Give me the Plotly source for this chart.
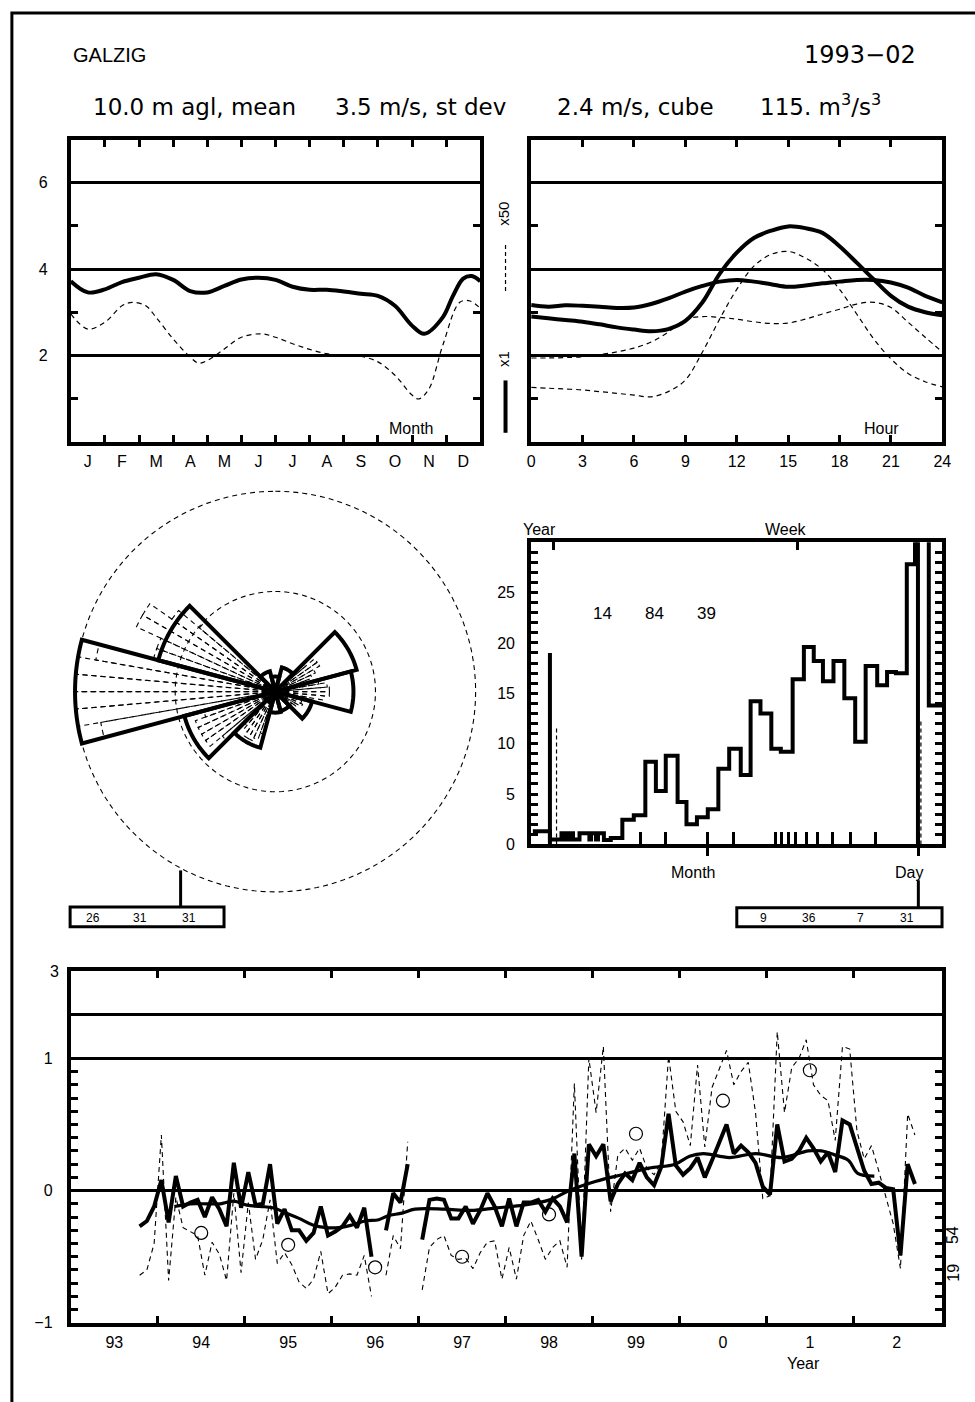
import plotly.graph_objects as go

W, H = 975, 1402
def fx(px): return px / W
def fy(py): return 1 - py / H

FONT = "Liberation Sans, Arial, sans-serif"
TFONT = "DejaVu Sans, Liberation Sans, sans-serif"
BLK = "black"

# ---------------- data ----------------
# seasonal cycle (top left)
month_labels = ["J", "F", "M", "A", "M", "J", "J", "A", "S", "O", "N", "D"]
mon_mean_x = [0, 0.5, 1, 1.5, 2, 2.5, 3, 3.5, 4, 4.5, 5, 5.5, 6, 6.5, 7, 7.5, 8, 8.5, 9, 9.5,
              10, 10.36, 10.9, 11.2, 11.5, 11.75, 12]
mon_mean_y = [3.72, 3.46, 3.53, 3.70, 3.80, 3.88, 3.75, 3.49, 3.46, 3.61, 3.76, 3.80, 3.75, 3.59,
              3.52, 3.52, 3.48, 3.43, 3.38, 3.15, 2.69, 2.50, 2.88, 3.38, 3.78, 3.84, 3.72]
mon_sd_x = [0, 0.5, 1, 1.5, 1.8, 2.2, 2.5, 3, 3.5, 3.75, 4, 4.5, 5, 5.6, 6, 6.5, 7, 7.5, 8, 8.5,
            9, 9.5, 10, 10.2, 10.5, 10.9, 11.4, 11.7, 12]
mon_sd_y = [2.96, 2.61, 2.77, 3.15, 3.23, 3.15, 2.88, 2.38, 1.96, 1.82, 1.88, 2.15, 2.42, 2.50,
            2.42, 2.27, 2.14, 2.04, 2.00, 1.98, 1.85, 1.54, 1.08, 0.99, 1.23, 2.23, 3.23, 3.26, 3.09]

# diurnal cycle (top right)
hours = list(range(25))
hr_mean_a = [2.90, 2.86, 2.82, 2.78, 2.72, 2.65, 2.60, 2.56, 2.61, 2.80, 3.23, 3.89, 4.38, 4.72,
             4.89, 4.99, 4.95, 4.84, 4.53, 4.15, 3.76, 3.38, 3.13, 3.00, 2.93]
hr_mean_b = [3.17, 3.13, 3.16, 3.15, 3.13, 3.10, 3.11, 3.19, 3.32, 3.48, 3.61, 3.71, 3.75, 3.71,
             3.65, 3.59, 3.62, 3.67, 3.71, 3.75, 3.75, 3.69, 3.57, 3.38, 3.23]
hr_sd_a = [1.26, 1.24, 1.22, 1.20, 1.16, 1.12, 1.08, 1.04, 1.16, 1.43, 2.08, 2.84, 3.53, 4.07,
           4.34, 4.41, 4.26, 3.99, 3.53, 2.96, 2.38, 1.92, 1.58, 1.39, 1.27]
hr_sd_b = [1.94, 1.94, 1.95, 1.97, 2.02, 2.08, 2.17, 2.31, 2.54, 2.83, 2.90, 2.88, 2.84, 2.78,
           2.74, 2.75, 2.84, 2.96, 3.07, 3.19, 3.23, 3.11, 2.77, 2.42, 2.08]

# wind rose (30 deg sectors) and 5 deg sub-sectors
rose_dir = [0, 30, 60, 90, 120, 150, 180, 210, 240, 270, 300, 330]
rose_freq = [1.5, 2.5, 8.4, 7.8, 3.8, 2.0, 2.1, 5.8, 9.4, 20.0, 12.1, 2.1]
rose_rings = [10, 20]
fine_start = [45, 50, 55, 60, 65, 70, 75, 80, 85, 90, 95, 100, 105, 110, 115, 120, 125, 130,
              195, 200, 205, 210, 215, 220, 225, 230, 235, 240, 245, 250,
              255, 260, 265, 270, 275, 280, 285, 290, 295, 300, 305, 310]
fine_freq = [3.9, 5.1, 5.1, 4.4, 3.9, 3.4, 4.4, 5.2, 5.4, 5.4, 4.9, 3.4, 2.0, 2.8, 3.0, 2.5, 2.0, 1.5,
             4.4, 5.1, 5.4, 5.4, 4.9, 4.4, 6.9, 8.5, 8.5, 8.5, 8.5, 7.4,
             17.7, 20.0, 20.0, 20.0, 20.0, 18.2, 12.6, 12.6, 15.3, 15.3, 12.6, 9.9]

# histogram (step) panel
hist_edges = [1.7, 19.0, 30.7, 32.4, 35.7, 37.4, 40.7, 42.4, 49.0, 59.0, 60.7, 65.7, 67.7, 73.7,
              80.7, 92.4, 104.0, 115.7, 126.4, 136.4, 148.4, 157.4, 168.0, 179.0, 189.7, 200.7,
              212.4, 222.4, 232.4, 243.4, 253.0, 265.0, 276.4, 286.4, 295.7, 306.4, 317.4, 328.4,
              339.0, 350.7, 360.7, 369.7, 380.7, 389.0, 403.0, 416.4]
hist_vals = [1.3, 0.5, 1.1, 0.5, 1.1, 0.5, 1.1, 0.5, 1.1, 0.5, 1.1, 0.5, 1.1, 0.45, 0.65,
             2.45, 2.9, 8.2, 5.3, 8.8, 4.2, 2.0, 2.7, 3.5, 7.5, 9.5, 6.9, 14.2, 13.0, 9.5, 9.2,
             16.4, 19.6, 18.2, 16.2, 18.2, 14.5, 10.2, 17.7, 15.8, 17.1, 17.0, 27.8, 40.0, 13.8]
hist_mark_x = [19.0, 392.0]
hist_mark_h = [19.0, 31.0]
hist_dmark_x = [25.7, 395.0]
hist_dmark_h = [11.8, 12.4]
hist_small_ticks = [110.7, 135.7, 205.0, 247.4, 254.0, 260.7, 267.4, 279.0, 290.7, 305.7, 324.0, 349.0]
hist_major_ticks = [178.4, 392.4]
hist_top_ticks = [22.4, 269.7]
hist_numbers = ["14", "84", "39"]

# long-term monthly anomalies, Oct 1993 .. Sep 2002
start_year, start_month = 1993, 10
anom = [-0.27, -0.23, -0.12, 0.08, -0.24, 0.11, -0.12, -0.09, -0.07, -0.20,
        -0.05, -0.14, -0.27, 0.21, -0.13, 0.14, -0.11, -0.10, 0.20, -0.25,
        -0.14, -0.30, -0.30, -0.38, -0.32, -0.12, -0.34, -0.31, -0.27, -0.19,
        -0.28, -0.13, -0.50, None, -0.30, -0.02, -0.09, 0.20, None, -0.37,
        -0.07, -0.06, -0.07, -0.21, -0.21, -0.12, -0.25, -0.15, -0.02, -0.12,
        -0.27, -0.06, -0.27, -0.09, -0.09, -0.07, -0.16, -0.06, -0.12, -0.24,
        0.28, -0.50, 0.35, 0.26, 0.35, -0.08, 0.05, 0.13, 0.08, 0.21,
        0.10, 0.04, 0.18, 0.58, 0.19, 0.12, 0.17, 0.25, 0.10, 0.23,
        0.37, 0.50, 0.28, 0.34, 0.29, 0.21, 0.03, -0.03, 0.50, 0.22,
        0.24, 0.30, 0.40, 0.32, 0.22, 0.29, 0.14, 0.53, 0.50, 0.32,
        0.15, 0.05, 0.06, 0.02, 0.01, -0.49, 0.20, 0.05]
anom_dash = [-0.64, -0.60, -0.40, 0.42, -0.68, -0.05, -0.28, -0.31, -0.34, -0.64,
             -0.39, -0.48, -0.68, -0.02, -0.62, -0.09, -0.52, -0.37, -0.07, -0.55,
             -0.47, -0.56, -0.69, -0.74, -0.67, -0.46, -0.78, -0.73, -0.64, -0.63,
             -0.64, -0.49, -0.80, None, -0.64, -0.34, -0.44, 0.37, None, -0.75,
             -0.43, -0.37, -0.34, -0.49, -0.52, -0.51, -0.59, -0.47, -0.39, -0.38,
             -0.67, -0.43, -0.67, -0.34, -0.23, -0.37, -0.52, -0.43, -0.38, -0.58,
             0.81, -0.52, 1.00, 0.59, 1.09, -0.16, 0.27, 0.32, 0.23, 0.32,
             0.17, 0.12, 0.22, 1.02, 0.60, 0.52, 0.34, 0.95, 0.33, 0.78,
             0.92, 1.06, 0.80, 0.90, 0.97, 0.59, -0.06, -0.04, 1.20, 0.59,
             0.93, 1.00, 1.14, 0.80, 0.72, 0.68, 0.38, 1.09, 1.07, 0.45,
             0.24, 0.34, 0.15, -0.05, -0.25, -0.59, 0.58, 0.42]
run_idx = [4.8, 7.0, 9.3, 11.1, 13.0, 14.8, 16.6, 18.4, 20.2, 22.0, 23.9, 25.7, 27.5, 29.3, 31.1,
           33.0, 34.3, 36.2, 38.0, 42.1, 45.7, 49.3, 53.0, 56.6, 59.3, 63.0, 66.6, 70.3, 73.9,
           75.9, 77.8, 81.4, 85.0, 88.7, 92.3, 94.1, 95.9, 97.8, 99.1, 101.4]
run_val = [-0.12, -0.10, -0.10, -0.10, -0.08, -0.11, -0.12, -0.13, -0.17, -0.21, -0.26, -0.28,
           -0.28, -0.26, -0.23, -0.22, -0.19, -0.17, -0.14, -0.14, -0.15, -0.13, -0.11, -0.07,
           0.00, 0.07, 0.12, 0.17, 0.20, 0.26, 0.28, 0.25, 0.28, 0.25, 0.30, 0.30, 0.27, 0.23,
           0.13, 0.11]
annual_year = [1994, 1995, 1996, 1997, 1998, 1999, 2000, 2001]
annual_val = [-0.32, -0.41, -0.58, -0.50, -0.18, 0.43, 0.68, 0.91]
year_labels = ["93", "94", "95", "96", "97", "98", "99", "0", "1", "2"]

# ---------------- figure ----------------
fig = go.Figure()

def mdec(i):
    return start_year + (start_month - 1 + i + 0.5) / 12.0

DASH = "5px,4px"
# top-left
fig.add_trace(go.Scatter(x=mon_sd_x, y=mon_sd_y, mode="lines", line=dict(color=BLK, width=1.2, dash=DASH, shape="spline"), xaxis="x", yaxis="y"))
fig.add_trace(go.Scatter(x=mon_mean_x, y=mon_mean_y, mode="lines", line=dict(color=BLK, width=4, shape="spline"), xaxis="x", yaxis="y"))
# top-right
for ys in (hr_sd_a, hr_sd_b):
    fig.add_trace(go.Scatter(x=hours, y=ys, mode="lines", line=dict(color=BLK, width=1.2, dash=DASH, shape="spline"), xaxis="x2", yaxis="y2"))
for ys in (hr_mean_a, hr_mean_b):
    fig.add_trace(go.Scatter(x=hours, y=ys, mode="lines", line=dict(color=BLK, width=4, shape="spline"), xaxis="x2", yaxis="y2"))

# histogram
fig.add_trace(go.Scatter(x=hist_edges, y=hist_vals + [hist_vals[-1]], mode="lines", line=dict(color=BLK, width=4, shape="hv"), xaxis="x3", yaxis="y3"))
mx, my = [], []
for u, h in zip(hist_mark_x, hist_mark_h):
    mx += [u, u, None]; my += [0, h, None]
fig.add_trace(go.Scatter(x=mx, y=my, mode="lines", line=dict(color=BLK, width=4), xaxis="x3", yaxis="y3"))
mx, my = [], []
for u, h in zip(hist_dmark_x, hist_dmark_h):
    mx += [u, u, None]; my += [0, h, None]
fig.add_trace(go.Scatter(x=mx, y=my, mode="lines", line=dict(color=BLK, width=1.2, dash="4px,3px"), xaxis="x3", yaxis="y3"))
fig.add_trace(go.Scatter(x=[None], y=[None], xaxis="x4", yaxis="y3"))
fig.add_trace(go.Scatter(x=[None], y=[None], xaxis="x7", yaxis="y3"))

# wind rose
def sector(a0, a1, r):
    n = max(3, int(round(a1 - a0)) + 1)
    th = [a0] + [a0 + (a1 - a0) * k / (n - 1) for k in range(n)] + [a1, None]
    rr = [0] + [r] * n + [0, None]
    return rr, th

rr, th = [], []
for a, f in zip(fine_start, fine_freq):
    r_, t_ = sector(a, a + 5, f); rr += r_; th += t_
fig.add_trace(go.Scatterpolar(r=rr, theta=th, mode="lines", line=dict(color=BLK, width=1.1, dash=DASH), subplot="polar"))
for ring in rose_rings:
    t_ = [k * 2 for k in range(181)]
    fig.add_trace(go.Scatterpolar(r=[ring] * len(t_), theta=t_, mode="lines", line=dict(color=BLK, width=1.1, dash=DASH), subplot="polar"))
rr, th = [], []
for d, f in zip(rose_dir, rose_freq):
    r_, t_ = sector(d - 15, d + 15, f); rr += r_; th += t_
fig.add_trace(go.Scatterpolar(r=rr, theta=th, mode="lines", line=dict(color=BLK, width=4), subplot="polar"))

# long-term panel
xs = [mdec(i) for i in range(len(anom))]
fig.add_trace(go.Scatter(x=xs, y=anom_dash, mode="lines", line=dict(color=BLK, width=1.1, dash=DASH), xaxis="x5", yaxis="y5"))
fig.add_trace(go.Scatter(x=[mdec(i) for i in run_idx], y=run_val, mode="lines", line=dict(color=BLK, width=3.2, shape="spline"), xaxis="x5", yaxis="y5"))
fig.add_trace(go.Scatter(x=xs, y=anom, mode="lines", line=dict(color=BLK, width=4), xaxis="x5", yaxis="y5"))
fig.add_trace(go.Scatter(x=[y + 0.5 for y in annual_year], y=annual_val, mode="markers",
                         marker=dict(symbol="circle-open", size=13, color=BLK, line=dict(width=1.2, color=BLK)), xaxis="x5", yaxis="y5"))
fig.add_trace(go.Scatter(x=[None], y=[None], xaxis="x6", yaxis="y6"))

# ---------------- axes ----------------
tf = dict(family=FONT, size=16, color=BLK)
frame = dict(showline=True, linewidth=4, linecolor=BLK, zeroline=False, color=BLK)
def minor_in(vals, ln=7):
    return dict(tickvals=vals, ticks="inside", ticklen=ln, tickwidth=3, tickcolor=BLK, showgrid=False)

lay = dict(
    width=W, height=H, autosize=False, margin=dict(l=0, r=0, t=0, b=0),
    paper_bgcolor="white", plot_bgcolor="rgba(0,0,0,0)", showlegend=False,
    xaxis=dict(domain=[fx(67.7), fx(482.7)], range=[0, 12], anchor="y", mirror="ticks",
               tickvals=[k + 0.5 for k in range(12)], ticktext=month_labels, ticks="", showgrid=False,
               minor=minor_in(list(range(1, 12))), tickfont=tf, ticklabelstandoff=2, **frame),
    yaxis=dict(domain=[fy(439), fy(133.3)], range=[0, 7], anchor="x", mirror="ticks",
               tickvals=[2, 4, 6], ticktext=["2", "4", "6"], ticks="", showgrid=True, gridcolor=BLK, gridwidth=3,
               minor=minor_in([1, 3, 5]), tickfont=tf, ticklabelstandoff=16, **frame),
    xaxis2=dict(domain=[fx(534.3), fx(951)], range=[0, 24], anchor="y2", mirror="ticks",
                tickvals=list(range(0, 25, 3)), ticks="inside", ticklen=7, tickwidth=3, tickcolor=BLK,
                showgrid=False, tickfont=tf, ticklabelstandoff=2, **frame),
    yaxis2=dict(domain=[fy(439), fy(133.3)], range=[0, 7], anchor="x2", mirror="ticks",
                tickvals=[2, 4, 6], ticks="", showgrid=True, gridcolor=BLK, gridwidth=3, showticklabels=False,
                minor=minor_in([1, 3, 5]), **frame),
    xaxis3=dict(domain=[fx(534.3), fx(950.7)], range=[0, 416.4], anchor="y3", mirror=True,
                tickvals=hist_small_ticks + hist_major_ticks, ticks="inside", ticklen=12, tickwidth=3, tickcolor=BLK,
                showticklabels=False, showgrid=False, **frame),
    xaxis4=dict(overlaying="x3", side="top", anchor="y3", range=[0, 416.4], tickvals=hist_top_ticks,
                ticks="inside", ticklen=8, tickwidth=3, tickcolor=BLK, showticklabels=False, showgrid=False,
                showline=False, zeroline=False),
    xaxis7=dict(overlaying="x3", side="bottom", anchor="y3", range=[0, 416.4], tickvals=hist_major_ticks,
                ticks="outside", ticklen=11, tickwidth=3, tickcolor=BLK, showticklabels=False, showgrid=False,
                showline=False, zeroline=False),
    yaxis3=dict(domain=[fy(846.7), fy(540.7)], range=[0, 30], anchor="x3", mirror="ticks",
                tickvals=[0, 5, 10, 15, 20, 25], ticks="inside", ticklen=7, tickwidth=3, tickcolor=BLK,
                minor=minor_in([k for k in range(1, 30) if k % 5]), showgrid=False, tickfont=tf,
                ticklabelstandoff=9, **frame),
    xaxis5=dict(domain=[fx(67.7), fx(950.7)], range=[1993, 2003.02], anchor="y5", mirror="ticks",
                tickvals=[1993.5 + k for k in range(10)], ticktext=year_labels, ticks="", showgrid=False,
                minor=minor_in(list(range(1994, 2003))), tickfont=tf, ticklabelstandoff=2, **frame),
    yaxis5=dict(domain=[fy(1331), fy(975)], range=[-1, 1.659], anchor="x5", mirror="ticks",
                tickvals=[-1, 0, 1], ticktext=["\u22121", "0", "1"], ticks="", showgrid=True, gridcolor=BLK, gridwidth=3,
                minor=minor_in([round(k / 10, 1) for k in range(-9, 10) if k != 0]), tickfont=tf,
                ticklabelstandoff=11, **frame),
    xaxis6=dict(domain=[fx(67.7), fx(950.7)], range=[1993, 2003.02], anchor="y6", visible=False),
    yaxis6=dict(domain=[fy(1063.3), fy(975)], range=[1, 3], anchor="x6", tickvals=[3], ticktext=["3"],
                ticks="", showgrid=False, showline=False, zeroline=False,
                minor=dict(tickvals=[2], ticks="", showgrid=True, gridcolor=BLK, gridwidth=3),
                tickfont=tf, ticklabelstandoff=11),
    polar=dict(domain=dict(x=[fx(275 - 213.15), fx(275 + 213.15)], y=[fy(692 + 213.15), fy(692 - 213.15)]),
               bgcolor="rgba(0,0,0,0)", hole=0,
               radialaxis=dict(visible=False, range=[0, 21]),
               angularaxis=dict(visible=False, rotation=90, direction="clockwise")),
)
fig.update_layout(**lay)

# ---------------- decorations ----------------
def ann(text, px, py, size=16, xanchor="center", angle=0, family=FONT):
    return dict(text=text, x=fx(px), y=fy(py), xref="paper", yref="paper", showarrow=False,
                xanchor=xanchor, yanchor="middle", textangle=angle,
                font=dict(family=family, size=size, color=BLK))

anns = [
    ann("GALZIG", 68, 48, 20, "left"),
    ann("1993\u221202", 926, 48, 24, "right", family=TFONT),
    ann("10.0 m agl, mean", 193, 100, 23, family=TFONT),
    ann("3.5 m/s, st dev", 422, 100, 23, family=TFONT),
    ann("2.4 m/s, cube", 640, 100, 23, family=TFONT),
    ann("115. m<sup>3</sup>/s<sup>3</sup>", 828, 98, 23, family=TFONT),
    ann("Month", 413, 426, 16),
    ann("Hour", 889, 426, 16),
    ann("x50", 506, 208, 15, angle=-90),
    ann("x1", 506, 355, 15, angle=-90),
    ann("Year", 543, 528, 16),
    ann("Week", 793, 528, 16),
    ann("Month", 698, 875, 16),
    ann("Day", 917, 875, 16),
    ann("Year", 810, 1372, 16),
    ann("54", 962, 1242, 16, angle=-90),
    ann("19", 962, 1280, 16, angle=-90),
]
for t, px in zip(hist_numbers, [607, 659, 712]):
    anns.append(ann(t, px, 613, 17))
for t, px in zip(["26", "31", "31"], [90, 138, 188]):
    anns.append(ann(t, px, 921, 12))
for t, px in zip(["9", "36", "7", "31"], [770, 816, 868, 915]):
    anns.append(ann(t, px, 921, 12))
fig.update_layout(annotations=anns)

def pline(x0, y0, x1, y1, w=3, dash="solid"):
    return dict(type="line", xref="paper", yref="paper", x0=fx(x0), y0=fy(y0), x1=fx(x1), y1=fy(y1),
                line=dict(color=BLK, width=w, dash=dash))
def prect(x0, y0, x1, y1, w=3):
    return dict(type="rect", xref="paper", yref="paper", x0=fx(x0), y0=fy(y0), x1=fx(x1), y1=fy(y1),
                line=dict(color=BLK, width=w), fillcolor="rgba(0,0,0,0)")

shapes = [
    prect(8, 5, 1100, 1500, 3),
    pline(508.3, 240, 508.3, 289, 1.2, "4px,3px"),
    pline(508.3, 377, 508.3, 430, 4),
    pline(179, 873, 179, 910, 3),
    prect(67, 910, 223, 930, 3),
    pline(926.7, 883, 926.7, 910.7, 3),
    prect(742.7, 910.7, 950.7, 930, 3),
]
fig.update_layout(shapes=shapes)

fig.write_html("out.html", config={"displayModeBar": False},
               post_script="document.body.style.margin='0';document.body.style.padding='0';document.body.style.overflow='hidden';")
